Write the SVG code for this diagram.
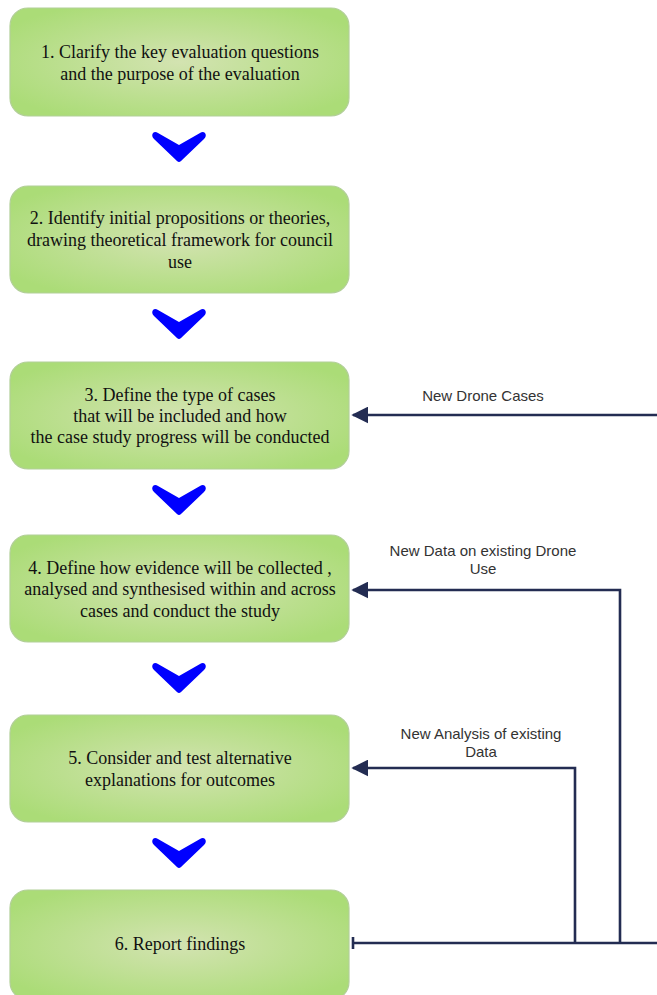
<svg xmlns="http://www.w3.org/2000/svg" width="657" height="995" viewBox="0 0 657 995">
<defs>
<radialGradient id="g" cx="0.5" cy="0.5" r="0.6">
<stop offset="0" stop-color="#d3e3b1"/>
<stop offset="1" stop-color="#abdc77"/>
</radialGradient>
<marker id="ah" viewBox="0 0 10 10" refX="9" refY="5" markerWidth="17" markerHeight="17" markerUnits="userSpaceOnUse" orient="auto">
<path d="M0,0 L10,5 L0,10 Z" fill="#232c52"/>
</marker>
<path id="chev" d="M-26,-14 Q-28,-11 -25,-8 L-2,14 Q0,16 2,14 L25,-8 Q28,-11 26,-14 Q24,-16 21,-14 L0,-2 L-21,-14 Q-24,-16 -26,-14 Z" fill="#0000ff"/>
</defs>
<style>
.box{fill:url(#g);stroke:#b2cf98;stroke-width:1.2}
.t{font-family:"Liberation Serif","Times New Roman",serif;font-size:18px;fill:#111;text-anchor:middle}
.l{font-family:"Liberation Sans",Arial,sans-serif;font-size:15px;fill:#333;text-anchor:middle}
.c{fill:none;stroke:#232c52;stroke-width:2.6}
</style>
<rect width="657" height="995" fill="#fff"/>
<g id="n1"><rect class="box" x="10" y="8" width="339" height="108" rx="18"/>
<text class="t" x="180" y="58">1. Clarify the key evaluation questions</text>
<text class="t" x="180" y="80">and the purpose of the evaluation</text></g>
<g id="n2"><rect class="box" x="10" y="186" width="339" height="107" rx="18"/>
<text class="t" x="180" y="224">2. Identify initial propositions or theories,</text>
<text class="t" x="180" y="246">drawing theoretical framework for council</text>
<text class="t" x="180" y="268">use</text></g>
<g id="n3"><rect class="box" x="10" y="362" width="339" height="107" rx="18"/>
<text class="t" x="180" y="401">3. Define the type of cases</text>
<text class="t" x="180" y="422">that will be included and how</text>
<text class="t" x="180" y="443">the case study progress will be conducted</text></g>
<g id="n4"><rect class="box" x="10" y="535" width="339" height="107" rx="18"/>
<text class="t" x="180" y="574">4. Define how evidence will be collected ,</text>
<text class="t" x="180" y="595">analysed and synthesised within and across</text>
<text class="t" x="180" y="617">cases and conduct the study</text></g>
<g id="n5"><rect class="box" x="10" y="715" width="339" height="107" rx="18"/>
<text class="t" x="180" y="764">5. Consider and test alternative</text>
<text class="t" x="180" y="786">explanations for outcomes</text></g>
<g id="n6"><rect class="box" x="10" y="890" width="339" height="110" rx="18"/>
<text class="t" x="180" y="950">6. Report findings</text></g>
<g id="chevrons">
<use href="#chev" x="179" y="147"/>
<use href="#chev" x="179" y="324"/>
<use href="#chev" x="179" y="500"/>
<use href="#chev" x="179" y="678"/>
<use href="#chev" x="179" y="853"/>
</g>
<g id="connectors">
<path class="c" d="M657,415 L353,415" marker-end="url(#ah)"/>
<path class="c" d="M620,943 L620,590 L353,590" marker-end="url(#ah)"/>
<path class="c" d="M575,943 L575,768 L353,768" marker-end="url(#ah)"/>
<path class="c" d="M657,943 L353,943"/>
<path class="c" d="M353,937 L353,949"/>
</g>
<g id="labels">
<text class="l" x="483" y="401">New Drone Cases</text>
<text class="l" x="483" y="556">New Data on existing Drone</text>
<text class="l" x="483" y="574">Use</text>
<text class="l" x="481" y="739">New Analysis of existing</text>
<text class="l" x="481" y="757">Data</text>
</g>
</svg>
